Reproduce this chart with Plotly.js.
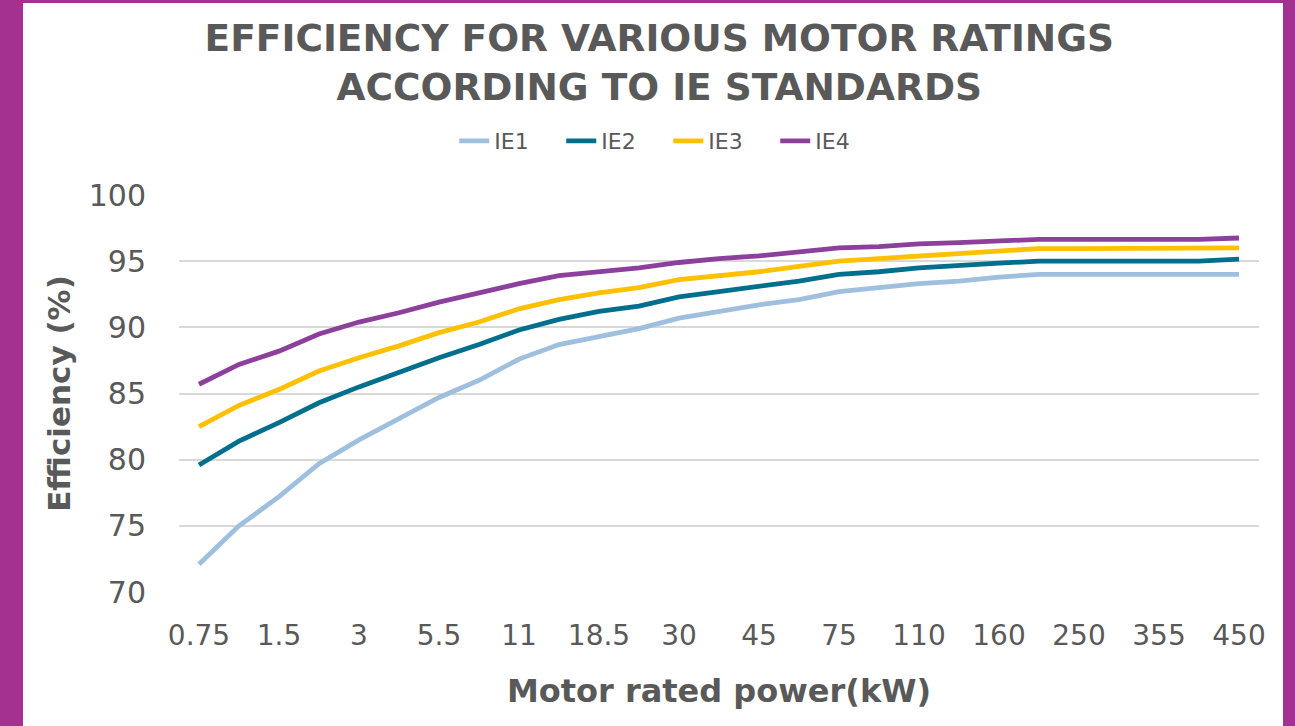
<!DOCTYPE html>
<html>
<head>
<meta charset="utf-8">
<script src="https://cdn.plot.ly/plotly-3.0.1.min.js"></script>
<style>
  html, body { margin: 0; padding: 0; width: 1295px; height: 726px; background: #a3318f; overflow: hidden; }
  #frame { position: absolute; left: 23px; top: 3px; width: 1260px; height: 723px; background: #ffffff; }
  #chart { width: 1260px; height: 723px; }
</style>
</head>
<body>
<div id="frame"><div id="chart"></div></div>
<script>
// Motor rated power categories (kW)
const categories = ["0.75","1.1","1.5","2.2","3","4","5.5","7.5","11","15","18.5","22","30","37","45","55","75","90","110","132","160","200","250","315","355","400","450"];
// Tick labels shown on the x axis (every other category)
const tickLabels = ["0.75","1.5","3","5.5","11","18.5","30","45","75","110","160","250","355","450"];

// Efficiency (%) per IE class
const ie1 = [72.1,75.0,77.2,79.7,81.5,83.1,84.7,86.0,87.6,88.7,89.3,89.9,90.7,91.2,91.7,92.1,92.7,93.0,93.3,93.5,93.8,94.0,94.0,94.0,94.0,94.0,94.0];
const ie2 = [79.6,81.4,82.8,84.3,85.5,86.6,87.7,88.7,89.8,90.6,91.2,91.6,92.3,92.7,93.1,93.5,94.0,94.2,94.5,94.7,94.85,95.0,95.0,95.0,95.0,95.0,95.15];
const ie3 = [82.5,84.1,85.3,86.7,87.7,88.6,89.6,90.4,91.4,92.1,92.6,93.0,93.6,93.9,94.2,94.6,95.0,95.2,95.4,95.6,95.8,95.95,95.95,95.95,95.95,95.95,96.0];
const ie4 = [85.7,87.2,88.2,89.5,90.4,91.1,91.9,92.6,93.3,93.9,94.2,94.5,94.9,95.2,95.4,95.7,96.0,96.1,96.3,96.4,96.55,96.65,96.65,96.65,96.65,96.65,96.75];

const seriesNames = ["IE1","IE2","IE3","IE4"];
const seriesValues = [ie1, ie2, ie3, ie4];
const seriesColors = ["#9fbfdf","#006f8e","#ffc000","#8c409c"];

const textColor = "#595959";
const fontFamily = "'DejaVu Sans', sans-serif";

const traces = seriesNames.map((name, i) => ({
  type: "scatter",
  mode: "lines",
  name: name,
  x: categories,
  y: seriesValues[i],
  line: { color: seriesColors[i], width: 4.8 },
  hoverinfo: "x+y+name"
}));

const layout = {
  width: 1260,
  height: 723,
  paper_bgcolor: "#ffffff",
  plot_bgcolor: "#ffffff",
  margin: { l: 156, r: 24, t: 192, b: 134 },
  font: { family: fontFamily, color: textColor },
  title: {
    text: "<b>EFFICIENCY FOR VARIOUS MOTOR RATINGS<br>ACCORDING TO IE STANDARDS</b>",
    font: { family: fontFamily, size: 37.5, color: textColor },
    xref: "container", x: 0.505, xanchor: "center",
    yref: "container", y: 0.933, yanchor: "middle"
  },
  showlegend: true,
  legend: {
    orientation: "h",
    x: 0.453, xanchor: "center",
    y: 1.136, yanchor: "middle",
    font: { family: fontFamily, size: 22, color: textColor },
    itemwidth: 30,
    entrywidth: 62,
    entrywidthmode: "pixels",
    tracegroupgap: 0,
    bgcolor: "rgba(0,0,0,0)"
  },
  xaxis: {
    type: "category",
    range: [-0.5, categories.length - 0.5],
    tickmode: "array",
    tickvals: tickLabels,
    ticktext: tickLabels,
    showgrid: false,
    showline: false,
    zeroline: false,
    ticks: "",
    ticklabelstandoff: 24,
    tickfont: { family: fontFamily, size: 28, color: textColor },
    title: {
      text: "<b>Motor rated power(kW)</b>",
      font: { family: fontFamily, size: 32, color: textColor },
      standoff: 28
    }
  },
  yaxis: {
    range: [70, 100],
    tickmode: "linear",
    tick0: 70,
    dtick: 5,
    showgrid: true,
    gridcolor: "#d9d9d9",
    gridwidth: 1.5,
    zeroline: false,
    showline: false,
    ticks: "",
    ticklabelstandoff: 32,
    tickfont: { family: fontFamily, size: 30, color: textColor },
    title: {
      text: "<b>Efficiency (%)</b>",
      font: { family: fontFamily, size: 31, color: textColor },
      standoff: 8
    }
  }
};

Plotly.newPlot("chart", traces, layout, { displayModeBar: false, staticPlot: false });
</script>
</body>
</html>
